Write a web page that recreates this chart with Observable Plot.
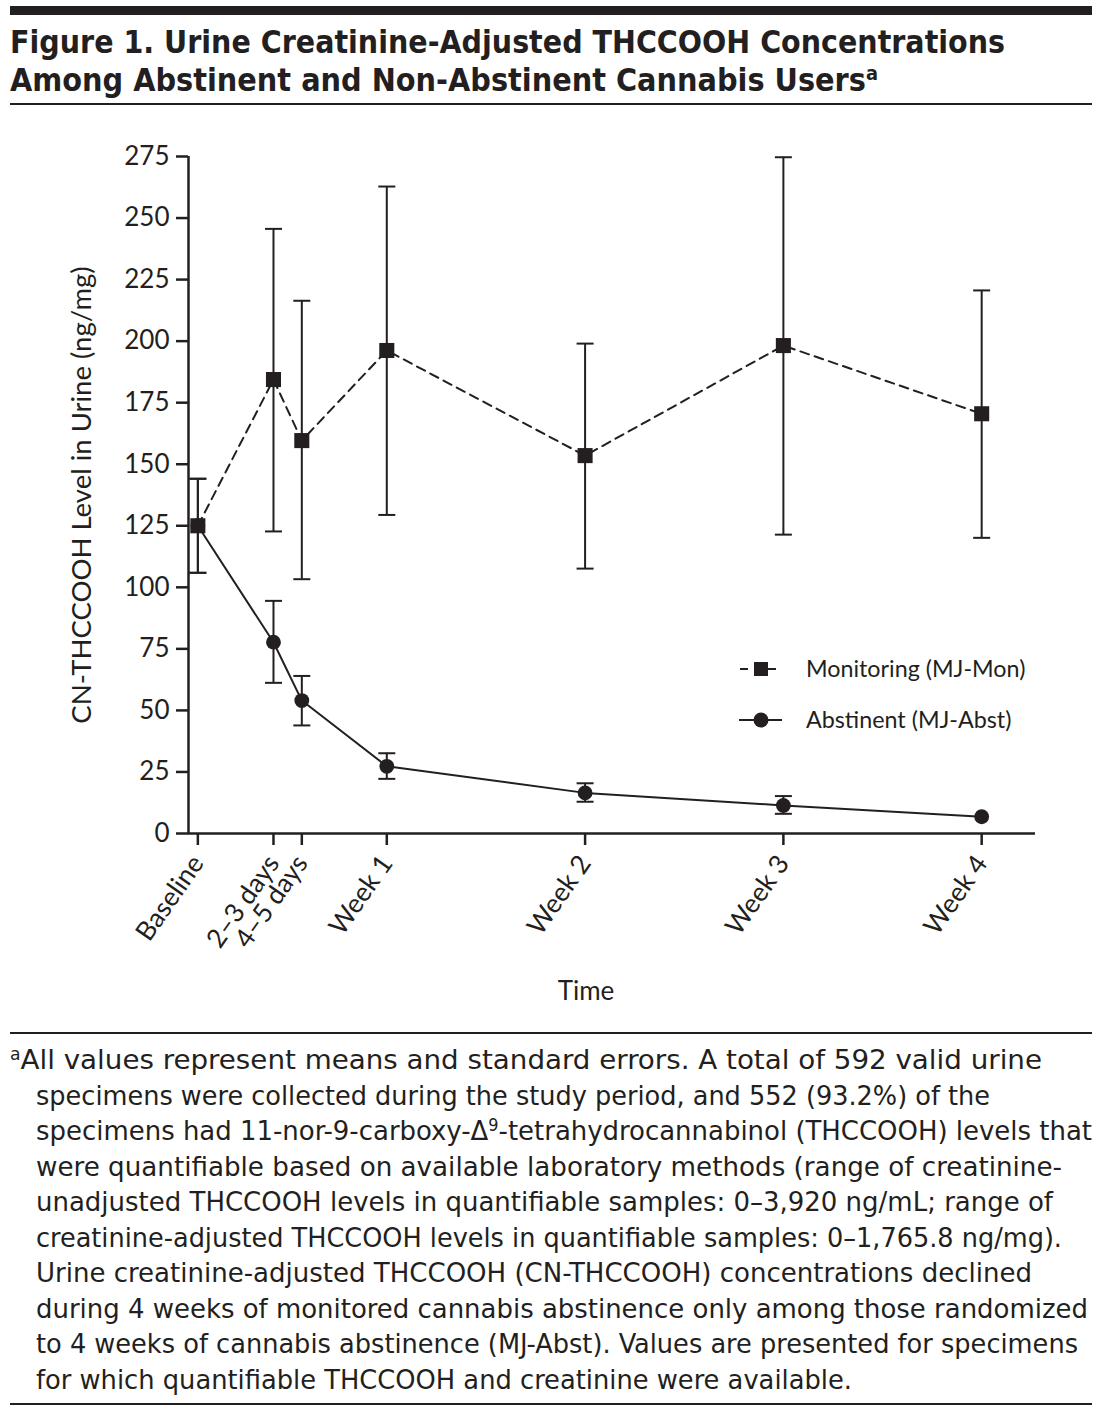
<!DOCTYPE html>
<html>
<head>
<meta charset="utf-8">
<script src="https://cdn.jsdelivr.net/npm/d3@7"></script>
<script src="https://cdn.jsdelivr.net/npm/@observablehq/plot@0.6"></script>
<style>
  html, body { margin: 0; padding: 0; background: #fff; }
  body { width: 1100px; height: 1415px; position: relative; overflow: hidden; color: #231f20; }
  .bar { position: absolute; left: 10px; width: 1082px; background: #231f20; }
  .ln { position: absolute; white-space: nowrap; transform-origin: 0 50%; }
  .title { font-family: "Liberation Sans Narrow", "DejaVu Sans Condensed", "Open Sans", sans-serif; font-stretch: condensed; font-weight: 700; font-size: 32px; line-height: 37px; }
  .fn { font-family: "Liberation Sans Narrow", "DejaVu Sans Condensed", "Open Sans", sans-serif; font-stretch: condensed; font-size: 27px; line-height: 34px; }
  sup { font-size: 0.62em; vertical-align: 0; position: relative; top: -0.55em; line-height: 0; }
  #chart { position: absolute; left: 0; top: 110px; }
  #legend { position: absolute; left: 736px; top: 652px; font-family: Lato, "Open Sans", sans-serif; font-size: 23.3px; }
  #legend .row { position: absolute; left: 0; height: 34px; width: 340px; }
  #legend svg { position: absolute; left: 0; top: 0; }
  #legend span { position: absolute; left: 70px; top: 2px; white-space: nowrap; }
</style>
</head>
<body>
<div class="bar" style="top:6px;height:9px;"></div>
<div class="ln title" data-x="10" data-w="995" style="top:24px;">Figure 1. Urine Creatinine-Adjusted THCCOOH Concentrations</div>
<div class="ln title" data-x="10" data-w="868" style="top:61.5px;">Among Abstinent and Non-Abstinent Cannabis Users<sup>a</sup></div>
<div class="bar" style="top:103px;height:2px;"></div>

<div id="chart"></div>

<div id="legend">
  <div class="row" style="top:0px;">
    <svg width="60" height="34"><line x1="4" x2="46" y1="17" y2="17" stroke="#231f20" stroke-width="2" stroke-dasharray="8,6"/><rect x="18" y="10" width="14" height="14" fill="#231f20"/></svg>
    <span>Monitoring (MJ-Mon)</span>
  </div>
  <div class="row" style="top:51px;">
    <svg width="60" height="34"><line x1="3" x2="46" y1="17" y2="17" stroke="#231f20" stroke-width="2"/><circle cx="25" cy="17" r="7.5" fill="#231f20"/></svg>
    <span>Abstinent (MJ-Abst)</span>
  </div>
</div>

<div class="bar" style="top:1032px;height:2px;"></div>
<div class="ln fn" data-x="10" data-w="1032" style="top:1043px;"><sup>a</sup>All values represent means and standard errors. A total of 592 valid urine</div>
<div class="ln fn" data-x="36" data-w="954" style="top:1078.5px;">specimens were collected during the study period, and 552 (93.2%) of the</div>
<div class="ln fn" data-x="36" data-w="1056" style="top:1114px;">specimens had 11-nor-9-carboxy-Δ<sup>9</sup>-tetrahydrocannabinol (THCCOOH) levels that</div>
<div class="ln fn" data-x="36" data-w="1026" style="top:1149.5px;">were quantifiable based on available laboratory methods (range of creatinine-</div>
<div class="ln fn" data-x="36" data-w="1017" style="top:1185px;">unadjusted THCCOOH levels in quantifiable samples: 0–3,920 ng/mL; range of</div>
<div class="ln fn" data-x="36" data-w="1026" style="top:1220.5px;">creatinine-adjusted THCCOOH levels in quantifiable samples: 0–1,765.8 ng/mg).</div>
<div class="ln fn" data-x="36" data-w="996" style="top:1256px;">Urine creatinine-adjusted THCCOOH (CN-THCCOOH) concentrations declined</div>
<div class="ln fn" data-x="36" data-w="1052" style="top:1291.5px;">during 4 weeks of monitored cannabis abstinence only among those randomized</div>
<div class="ln fn" data-x="36" data-w="1042" style="top:1327px;">to 4 weeks of cannabis abstinence (MJ-Abst). Values are presented for specimens</div>
<div class="ln fn" data-x="36" data-w="816" style="top:1362.5px;">for which quantifiable THCCOOH and creatinine were available.</div>
<div class="bar" style="top:1403px;height:2px;"></div>

<script>
// ---- data ----
const timepoints = ["Baseline", "2–3 days", "4–5 days", "Week 1", "Week 2", "Week 3", "Week 4"];
const dayPositions = [0.33, 3, 4, 7, 14, 21, 28];
const monMean = [125, 184.4, 159.6, 196.2, 153.5, 198.2, 170.5];
const monLo   = [105.9, 122.7, 103.3, 129.4, 107.6, 121.4, 120.1];
const monHi   = [144.1, 245.6, 216.4, 262.8, 199.0, 274.7, 220.6];
const abstMean = [125, 77.7, 54.0, 27.3, 16.5, 11.4, 6.8];
const abstLo   = [105.9, 61.2, 43.9, 22.2, 12.9, 8.0, null];
const abstHi   = [144.1, 94.5, 64.0, 32.6, 20.4, 15.2, null];
const yTicks = [0, 25, 50, 75, 100, 125, 150, 175, 200, 225, 250, 275];
const xLabel = "Time";
const yLabel = "CN-THCCOOH Level in Urine (ng/mg)";

const ink = "#231f20";
const mon = timepoints.map((t, i) => ({t, x: dayPositions[i], y: monMean[i], lo: monLo[i], hi: monHi[i]}));
const abst = timepoints.map((t, i) => ({t, x: dayPositions[i], y: abstMean[i], lo: abstLo[i], hi: abstHi[i]}));
const bars = [...abst, ...mon].filter(d => d.lo != null);
const caps = bars.flatMap(d => [{x: d.x, y: d.lo}, {x: d.x, y: d.hi}]);

const capSymbol = {
  draw(ctx, size) { const w = Math.sqrt(size) / 2; ctx.moveTo(-w, 0); ctx.lineTo(w, 0); }
};

const chart = Plot.plot({
  width: 1100,
  height: 920,
  marginLeft: 188,
  marginRight: 65,
  marginTop: 46,
  marginBottom: 197,
  style: {fontFamily: "Lato, 'Open Sans', sans-serif", fontSize: "26px", color: ink, background: "#fff"},
  x: {domain: [0, 29.9]},
  y: {domain: [0, 275]},
  marks: [
    Plot.axisY({ticks: yTicks, tickSize: 12, tickPadding: 7, tickFormat: d3.format("d"), label: null, strokeWidth: 2.5, fontSize: 26}),
    Plot.axisX({ticks: dayPositions, tickFormat: d => timepoints[dayPositions.indexOf(d)], tickSize: 12, tickPadding: 13, tickRotate: -55, label: null, strokeWidth: 2.5, fontSize: 26.5}),
    Plot.ruleX([0], {y1: 0, y2: 275, stroke: ink, strokeWidth: 2.5}),
    Plot.ruleY([0], {stroke: ink, strokeWidth: 2.5}),
    Plot.ruleX(bars, {x: "x", y1: "lo", y2: "hi", stroke: ink, strokeWidth: 2}),
    Plot.dot(caps, {x: "x", y: "y", symbol: capSymbol, r: 17 / Math.sqrt(Math.PI), stroke: ink, strokeWidth: 2, fill: "none"}),
    Plot.line(abst, {x: "x", y: "y", stroke: ink, strokeWidth: 2}),
    Plot.line(mon, {x: "x", y: "y", stroke: ink, strokeWidth: 2, strokeDasharray: "9,6"}),
    Plot.dot(abst, {x: "x", y: "y", symbol: "circle", r: 7.4, fill: ink, stroke: "none"}),
    Plot.dot(mon, {x: "x", y: "y", symbol: "square", r: 8.5, fill: ink, stroke: "none"}),
    Plot.text([yLabel], {frameAnchor: "left", rotate: -90, dx: -106, fill: ink, fontSize: 27.5, textAnchor: "middle"}),
    Plot.text([xLabel], {frameAnchor: "bottom", dx: -26, dy: 166, fill: ink, fontSize: 26, textAnchor: "middle"})
  ]
});
document.getElementById("chart").appendChild(chart);

// fit each text line to its width in the figure
document.querySelectorAll(".ln").forEach(el => {
  el.style.left = el.dataset.x + "px";
  const w = el.getBoundingClientRect().width;
  el.style.transform = `scaleX(${(+el.dataset.w) / w})`;
});
</script>
</body>
</html>
